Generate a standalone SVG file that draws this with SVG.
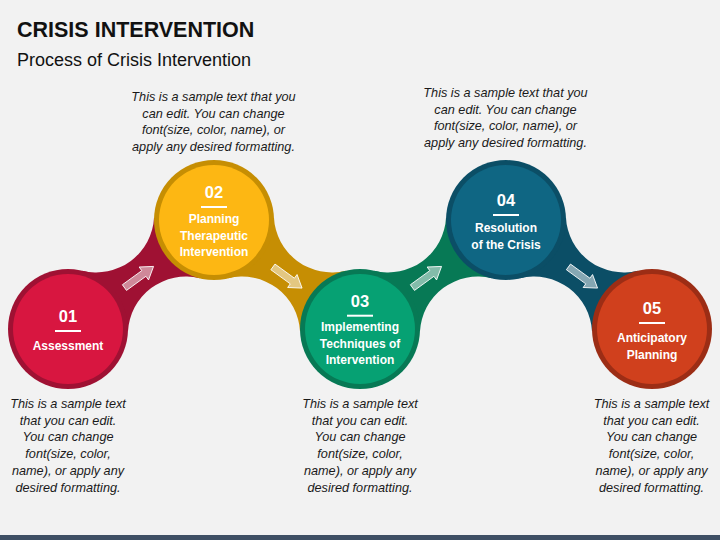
<svg xmlns="http://www.w3.org/2000/svg" width="720" height="540" viewBox="0 0 720 540">
<defs>
<style>
.title{font-family:"Liberation Sans",Arial,sans-serif;font-weight:bold;font-size:21.5px;fill:#111}
.sub{font-family:"Liberation Sans",Arial,sans-serif;font-size:18px;fill:#111}
.desc{font-family:"Liberation Sans",Arial,sans-serif;font-style:italic;font-size:12.7px;fill:#1a1a1a;text-anchor:middle}
.num{font-family:"Liberation Sans",Arial,sans-serif;font-weight:bold;font-size:16.5px;fill:#fff;text-anchor:middle}
.lbl{font-family:"Liberation Sans",Arial,sans-serif;font-weight:bold;font-size:12px;fill:#fff;text-anchor:middle}
.bar{stroke:#fff;stroke-width:2}
.arrow{fill:#fff;fill-opacity:.5;stroke:#fff;stroke-width:.9;stroke-opacity:.9}
</style>
<path id="arr" d="M-18,-3.5 L6,-3.5 L6,-8 L18,0 L6,8 L6,3.5 L-18,3.5 Z"/>
</defs>
<rect width="720" height="540" fill="#f2f2f2"/>
<rect x="0" y="535" width="720" height="5" fill="#3e4f64"/>
<text class="title" x="17" y="36.5">CRISIS INTERVENTION</text>
<text class="sub" x="17" y="65.5">Process of Crisis Intervention</text>

<g id="connectors">
<path d="M82.31,270.74 A58,58 0 0,0 154.07,217.16 L199.69,278.26 A58,58 0 0,0 127.93,331.84 Z" fill="#9f1133"/>
<path d="M345.69,270.74 A58,58 0 0,1 273.93,217.16 L228.31,278.26 A58,58 0 0,1 300.07,331.84 Z" fill="#c68e03"/>
<path d="M374.31,270.74 A58,58 0 0,0 446.07,217.16 L491.69,278.26 A58,58 0 0,0 419.93,331.84 Z" fill="#077955"/>
<path d="M637.69,270.74 A58,58 0 0,1 565.93,217.16 L520.31,278.26 A58,58 0 0,1 592.07,331.84 Z" fill="#0b4e66"/>
<use href="#arr" class="arrow" transform="translate(139,277) rotate(-36)"/>
<use href="#arr" class="arrow" transform="translate(287.5,277.5) rotate(36)"/>
<use href="#arr" class="arrow" transform="translate(427,277) rotate(-36)"/>
<use href="#arr" class="arrow" transform="translate(583,277.5) rotate(36)"/>
</g>

<g id="node1">
<circle cx="68" cy="329" r="60" fill="#9f1133"/>
<circle cx="68" cy="329" r="55" fill="#d81640"/>
<text class="num" x="68" y="321.7">01</text>
<line class="bar" x1="55" y1="331" x2="81" y2="331"/>
<text class="lbl" x="68" y="349.5">Assessment</text>
</g>

<g id="node2">
<circle cx="214" cy="220" r="60" fill="#c68e03"/>
<circle cx="214" cy="220" r="55" fill="#fdb713"/>
<text class="num" x="214" y="198.3">02</text>
<line class="bar" x1="201" y1="207" x2="227" y2="207"/>
<text class="lbl" x="214" y="223">Planning</text>
<text class="lbl" x="214" y="239.5">Therapeutic</text>
<text class="lbl" x="214" y="256">Intervention</text>
</g>

<g id="node3">
<circle cx="360" cy="329" r="60" fill="#077955"/>
<circle cx="360" cy="329" r="55" fill="#06a173"/>
<text class="num" x="360" y="306.7">03</text>
<line class="bar" x1="347" y1="315.7" x2="373" y2="315.7"/>
<text class="lbl" x="360" y="331">Implementing</text>
<text class="lbl" x="360" y="347.7">Techniques of</text>
<text class="lbl" x="360" y="364.3">Intervention</text>
</g>

<g id="node4">
<circle cx="506" cy="220" r="60" fill="#0b4e66"/>
<circle cx="506" cy="220" r="55" fill="#0f6683"/>
<text class="num" x="506" y="206">04</text>
<line class="bar" x1="493" y1="215" x2="519" y2="215"/>
<text class="lbl" x="506" y="232">Resolution</text>
<text class="lbl" x="506" y="248.5">of the Crisis</text>
</g>

<g id="node5">
<circle cx="652" cy="329" r="60" fill="#9c2d15"/>
<circle cx="652" cy="329" r="55" fill="#d0401d"/>
<text class="num" x="652" y="314">05</text>
<line class="bar" x1="639" y1="323" x2="665" y2="323"/>
<text class="lbl" x="652" y="342">Anticipatory</text>
<text class="lbl" x="652" y="358.5">Planning</text>
</g>

<g id="desc2">
<text class="desc" x="213.5" y="101">This is a sample text that you</text>
<text class="desc" x="213.5" y="117.7">can edit. You can change</text>
<text class="desc" x="213.5" y="134.4">font(size, color, name), or</text>
<text class="desc" x="213.5" y="151.1">apply any desired formatting.</text>
</g>
<g id="desc4">
<text class="desc" x="505.5" y="97">This is a sample text that you</text>
<text class="desc" x="505.5" y="113.7">can edit. You can change</text>
<text class="desc" x="505.5" y="130.4">font(size, color, name), or</text>
<text class="desc" x="505.5" y="147.1">apply any desired formatting.</text>
</g>
<g id="desc1">
<text class="desc" x="68" y="408">This is a sample text</text>
<text class="desc" x="68" y="424.7">that you can edit.</text>
<text class="desc" x="68" y="441.4">You can change</text>
<text class="desc" x="68" y="458.1">font(size, color,</text>
<text class="desc" x="68" y="474.8">name), or apply any</text>
<text class="desc" x="68" y="491.5">desired formatting.</text>
</g>
<g id="desc3">
<text class="desc" x="360" y="408">This is a sample text</text>
<text class="desc" x="360" y="424.7">that you can edit.</text>
<text class="desc" x="360" y="441.4">You can change</text>
<text class="desc" x="360" y="458.1">font(size, color,</text>
<text class="desc" x="360" y="474.8">name), or apply any</text>
<text class="desc" x="360" y="491.5">desired formatting.</text>
</g>
<g id="desc5">
<text class="desc" x="651.5" y="408">This is a sample text</text>
<text class="desc" x="651.5" y="424.7">that you can edit.</text>
<text class="desc" x="651.5" y="441.4">You can change</text>
<text class="desc" x="651.5" y="458.1">font(size, color,</text>
<text class="desc" x="651.5" y="474.8">name), or apply any</text>
<text class="desc" x="651.5" y="491.5">desired formatting.</text>
</g>
</svg>
